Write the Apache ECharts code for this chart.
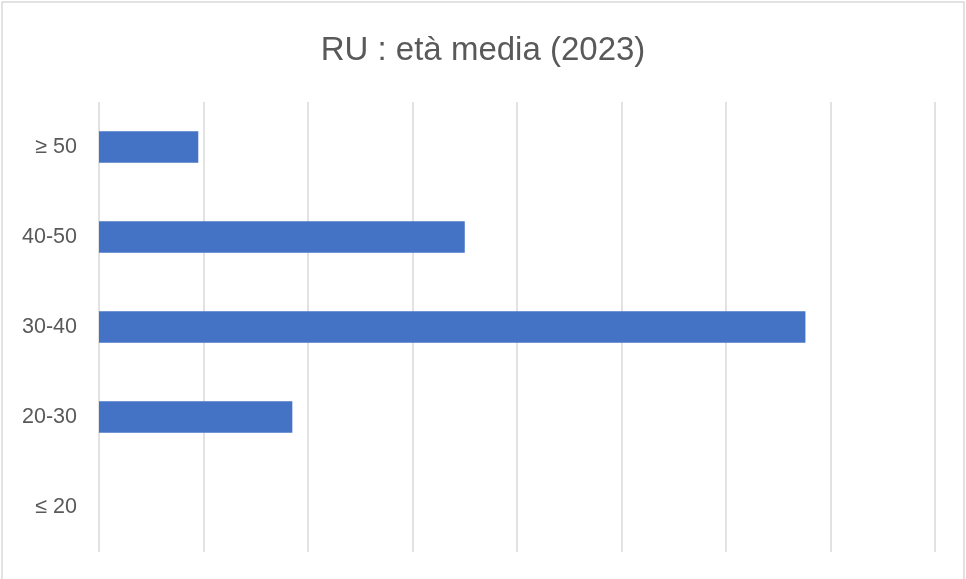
<!DOCTYPE html>
<html>
<head>
<meta charset="utf-8">
<style>
  html, body { margin: 0; padding: 0; background: #fff; }
  #chart { width: 966px; height: 579px; }
</style>
<script src="https://cdn.jsdelivr.net/npm/echarts@6/dist/echarts.min.js"></script>
</head>
<body>
<div id="chart"></div>
<script>
// Age bands, listed bottom to top as the category axis draws them
const categories = ['≤ 20', '20-30', '30-40', '40-50', '≥ 50'];
const values = [0, 1.85, 6.76, 3.5, 0.95];
const titleText = 'RU : età media (2023)';

const chart = echarts.init(document.getElementById('chart'), null, { renderer: 'canvas' });

chart.setOption({
  backgroundColor: '#ffffff',
  animation: false,
  title: {
    text: titleText,
    left: 'center',
    top: 29,
    textStyle: {
      fontFamily: 'Liberation Sans',
      fontSize: 33,
      fontWeight: 'normal',
      color: '#595959'
    }
  },
  graphic: [{
    type: 'rect',
    shape: { x: 2, y: 2, width: 962, height: 600 },
    style: { fill: 'none', stroke: '#d9d9d9', lineWidth: 1.5 },
    silent: true
  }],
  grid: { left: 99, right: 31, top: 102, bottom: 27, containLabel: false },
  xAxis: {
    type: 'value',
    min: 0,
    max: 8,
    interval: 1,
    axisLabel: { show: false },
    axisLine: { show: false },
    axisTick: { show: false },
    splitLine: { show: true, lineStyle: { color: '#d9d9d9', width: 1.5 } }
  },
  yAxis: {
    type: 'category',
    data: categories,
    axisLine: { show: false },
    axisTick: { show: false },
    axisLabel: {
      margin: 22,
      fontFamily: 'Liberation Sans',
      fontSize: 21.5,
      color: '#595959'
    }
  },
  series: [{
    type: 'bar',
    data: values,
    barCategoryGap: '65%',
    itemStyle: { color: '#4472c4' }
  }]
});
</script>
</body>
</html>
